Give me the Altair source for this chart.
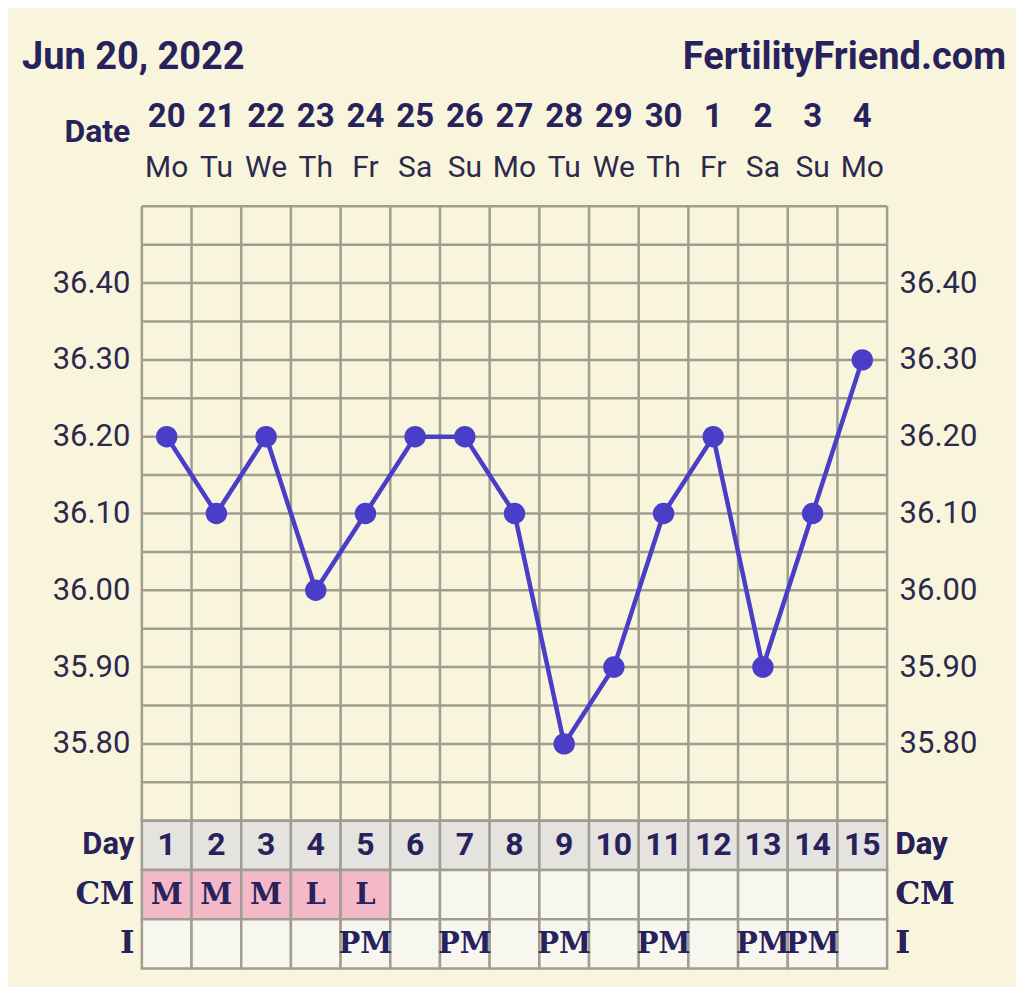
import altair as alt
import pandas as pd

# ---------------- data ----------------
days = list(range(1, 16))
dates = ["20", "21", "22", "23", "24", "25", "26", "27", "28", "29", "30", "1", "2", "3", "4"]
weekdays = ["Mo", "Tu", "We", "Th", "Fr", "Sa", "Su", "Mo", "Tu", "We", "Th", "Fr", "Sa", "Su", "Mo"]
temps = [36.20, 36.10, 36.20, 36.00, 36.10, 36.20, 36.20, 36.10, 35.80, 35.90, 36.10, 36.20, 35.90, 36.10, 36.30]
cm = ["M", "M", "M", "L", "L", "", "", "", "", "", "", "", "", "", ""]
intercourse = ["", "", "", "", "PM", "", "PM", "", "PM", "", "PM", "", "PM", "PM", ""]
temp_ticks = [35.80, 35.90, 36.00, 36.10, 36.20, 36.30, 36.40]
grid_temps = [35.70, 35.75, 35.80, 35.85, 35.90, 35.95, 36.00, 36.05, 36.10,
              36.15, 36.20, 36.25, 36.30, 36.35, 36.40, 36.45, 36.50]
row_labels = ["Day", "CM", "I"]
title_left = "Jun 20, 2022"
title_right = "FertilityFriend.com"

# ---------------- style ----------------
W = 746
BG = "#f9f5dc"
NAVY = "#27225c"
LABEL = "#2c2a4c"
GRID = "#a09e90"
LINE = "#4a3ec8"
DAYFILL = "#e4e3df"
PINK = "#f3b9c8"
BLANK = "#f7f6ef"

xscale = alt.Scale(domain=[0.5, 15.5], nice=False, zero=False)

# ---------------- header ----------------
hdr_df = pd.DataFrame({"day": days, "date": dates, "wd": weekdays})
hy = alt.Scale(domain=["title", "num", "wd"], paddingInner=0, paddingOuter=0)
hdr_axis = alt.Axis(labelExpr="datum.value == 'num' ? 'Date' : ''", labelFont="Roboto",
                    labelFontWeight="bold", labelFontSize=32, labelColor=NAVY,
                    ticks=False, domain=False, grid=False, labelPadding=12,
                    labelOffset=14, title=None)

h_nums = alt.Chart(hdr_df).transform_calculate(row="'num'").mark_text(
    font="Roboto", fontWeight="bold", fontSize=33, color=NAVY
).encode(
    x=alt.X("day:Q", scale=xscale, axis=None),
    y=alt.Y("row:N", scale=hy, axis=hdr_axis),
    text="date:N",
)
h_wd = alt.Chart(hdr_df).transform_calculate(row="'wd'").mark_text(
    font="Roboto", fontSize=30, color=LABEL, dy=-9
).encode(
    x=alt.X("day:Q", scale=xscale, axis=None),
    y=alt.Y("row:N", scale=hy, axis=hdr_axis),
    text="wd:N",
)
title_df = pd.DataFrame({"row": ["title"], "left": [title_left], "right": [title_right]})
h_tl = alt.Chart(title_df).mark_text(
    font="Roboto", fontWeight="bold", fontSize=38, color=NAVY, align="left"
).encode(
    x=alt.value(-120),
    y=alt.Y("row:N", scale=hy, axis=hdr_axis),
    text="left:N",
)
h_tr = alt.Chart(title_df).mark_text(
    font="Roboto", fontWeight="bold", fontSize=38, color=NAVY, align="right"
).encode(
    x=alt.value(W + 119),
    y=alt.Y("row:N", scale=hy, axis=hdr_axis),
    text="right:N",
)
header = alt.layer(h_tl, h_tr, h_nums, h_wd).properties(width=W, height=178)

# ---------------- temperature chart ----------------
t_df = pd.DataFrame({"day": days, "temp": temps})
yscale = alt.Scale(domain=[35.70, 36.50], nice=False, zero=False)


def temp_axis(orient):
    return alt.Axis(orient=orient, values=temp_ticks, format=".2f", labelFont="Roboto",
                    labelFontSize=31, labelColor=LABEL, ticks=False, domain=False,
                    grid=False, labelPadding=12, title=None)


vgrid = alt.Chart(pd.DataFrame({"b": [d - 0.5 for d in days] + [15.5]})).mark_rule(
    color=GRID, strokeWidth=2.5
).encode(x=alt.X("b:Q", scale=xscale, axis=None))
hgrid = alt.Chart(pd.DataFrame({"t": grid_temps})).mark_rule(
    color=GRID, strokeWidth=2.5
).encode(y=alt.Y("t:Q", scale=yscale, axis=None))
line = alt.Chart(t_df).mark_line(color=LINE, strokeWidth=4.5).encode(
    x=alt.X("day:Q", scale=xscale, axis=None),
    y=alt.Y("temp:Q", scale=yscale, axis=temp_axis("left")),
)
pts = alt.Chart(t_df).mark_circle(color=LINE, size=460, opacity=1).encode(
    x=alt.X("day:Q", scale=xscale, axis=None),
    y=alt.Y("temp:Q", scale=yscale, axis=temp_axis("right")),
)
temp_chart = alt.layer(hgrid, vgrid, line, pts).resolve_axis(y="independent").properties(
    width=W, height=615
)

# ---------------- table ----------------
rows = []
for i, d in enumerate(days):
    rows.append({"day": d, "row": "Day", "text": str(d), "kind": "day"})
    rows.append({"day": d, "row": "CM", "text": cm[i], "kind": "pink" if cm[i] else "blank"})
    rows.append({"day": d, "row": "I", "text": intercourse[i], "kind": "blank"})
tab_df = pd.DataFrame(rows)
ty = alt.Scale(domain=row_labels, paddingInner=0, paddingOuter=0)


def tab_axis(orient):
    return alt.Axis(orient=orient, labelFont={"condition": {"test": "datum.value == 'Day'", "value": "Roboto"},
                                              "value": "DejaVu Serif"},
                    labelFontWeight="bold", labelFontSize=31, labelColor=NAVY,
                    ticks=False, domain=False, grid=False, labelPadding=8, title=None)


base_t = alt.Chart(tab_df).transform_calculate(x0="datum.day - 0.5", x1="datum.day + 0.5")
cells = base_t.mark_rect(stroke=GRID, strokeWidth=2.5).encode(
    x=alt.X("x0:Q", scale=xscale, axis=None),
    x2="x1:Q",
    y=alt.Y("row:N", scale=ty, axis=tab_axis("left")),
    fill=alt.Fill("kind:N", scale=alt.Scale(domain=["day", "pink", "blank"],
                                            range=[DAYFILL, PINK, BLANK]), legend=None),
)
day_txt = base_t.transform_filter("datum.row == 'Day'").mark_text(
    font="Roboto", fontWeight="bold", fontSize=32, color=NAVY
).encode(
    x=alt.X("day:Q", scale=xscale, axis=None),
    y=alt.Y("row:N", scale=ty, axis=tab_axis("right")),
    text="text:N",
)
other_txt = base_t.transform_filter("datum.row != 'Day'").mark_text(
    font="DejaVu Serif", fontWeight="bold", fontSize=29, color=NAVY
).encode(
    x=alt.X("day:Q", scale=xscale, axis=None),
    y=alt.Y("row:N", scale=ty, axis=tab_axis("right")),
    text="text:N",
)
table = alt.layer(cells, day_txt, other_txt).resolve_axis(y="independent").properties(
    width=W, height=148
)

chart = alt.vconcat(header, temp_chart, table, spacing=0, bounds="flush").properties(
    padding={"left": 14, "top": 20, "right": 10, "bottom": 16}
).configure(background=BG).configure_view(stroke=None)

chart.save("out.html", embed_options={"renderer": "svg", "actions": False})
